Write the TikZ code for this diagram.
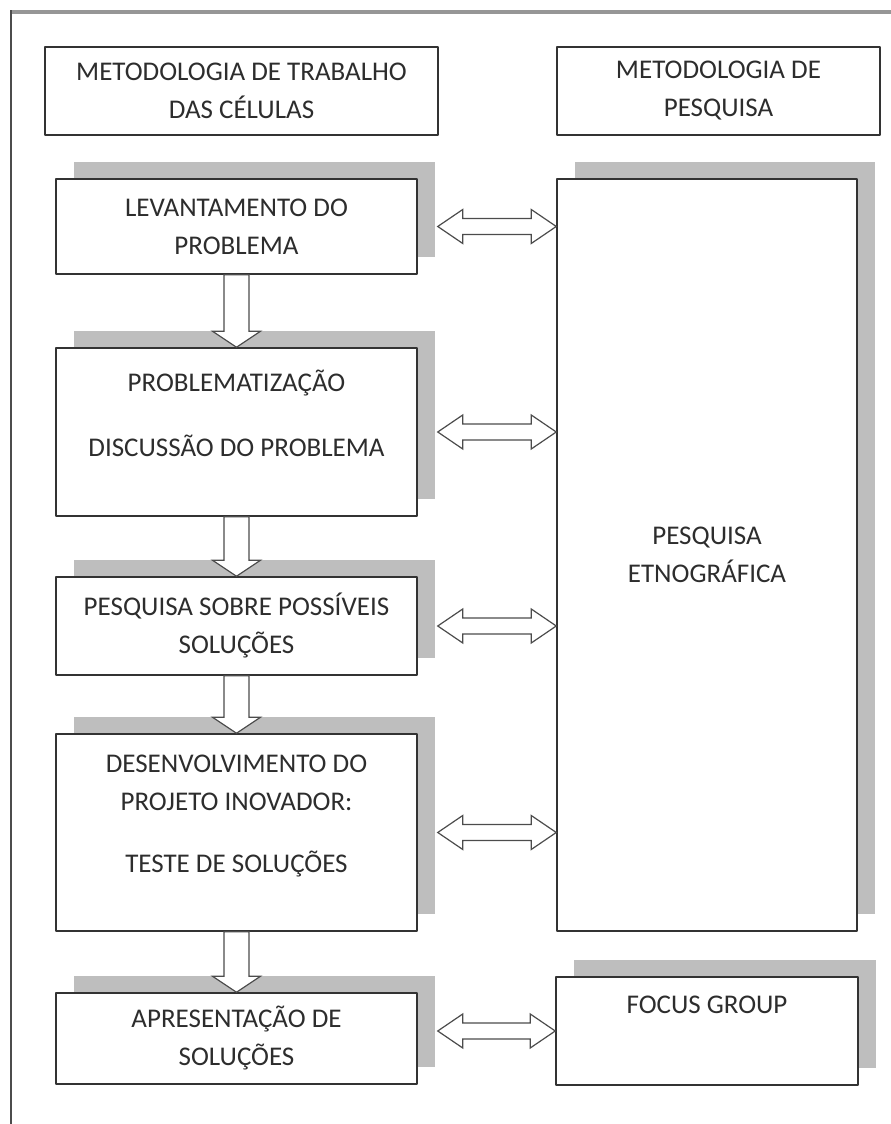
\documentclass[tikz,border=0pt]{standalone}
\usepackage{fontspec}
\setmainfont{Carlito}
\usetikzlibrary{shadows}
\usetikzlibrary{calc}

\definecolor{shadegray}{RGB}{190,190,190}
\definecolor{textgray}{RGB}{45,45,45}
\definecolor{framegray}{RGB}{150,150,150}

\tikzset{
  cellbox/.style={draw=black!80, line width=1.5bp, fill=white, align=center,
    text=textgray, inner sep=0pt, font=\fontsize{27bp}{38bp}\selectfont},
  shadowbox/.style={cellbox, drop shadow={shadow xshift=18bp, shadow yshift=17bp,
    fill=shadegray, opacity=1}},
  hollow/.style={draw=black!70, line width=1.2bp, fill=white, line join=miter},
}

\begin{document}
\begin{tikzpicture}[line join=bevel,]
\useasboundingbox (0bp,0bp) rectangle (891bp,1124bp);
%%
\draw [framegray, line width=3.5bp] (11bp,1112bp) -- (891bp,1112bp);
\draw [black!70, line width=1.5bp] (11bp,0bp) -- (11bp,1113.5bp);
%%
\node (hdr_cells) at (241.5bp,1033bp) [cellbox, minimum width=393bp, minimum height=88bp] {METODOLOGIA DE TRABALHO\\DAS CÉLULAS};
  \node (hdr_research) at (718.5bp,1033bp) [cellbox, minimum width=323bp, minimum height=88bp] {METODOLOGIA DE\\PESQUISA};
  \node (lev) at (236.5bp,897.5bp) [shadowbox, minimum width=361bp, minimum height=95bp] {LEVANTAMENTO DO\\PROBLEMA};
  \node (prob) at (236.5bp,692bp) [shadowbox, minimum width=361bp, minimum height=168bp] {PROBLEMATIZAÇÃO\\[27bp]DISCUSSÃO DO PROBLEMA\\~};
  \node (sol) at (236.5bp,498bp) [shadowbox, minimum width=361bp, minimum height=98bp] {PESQUISA SOBRE POSSÍVEIS\\SOLUÇÕES};
  \node (dev) at (236.5bp,291.5bp) [shadowbox, minimum width=361bp, minimum height=197bp] {DESENVOLVIMENTO DO\\PROJETO INOVADOR:\\[24bp]TESTE DE SOLUÇÕES\\~};
  \node (apr) at (236.5bp,85.5bp) [shadowbox, minimum width=361bp, minimum height=91bp] {APRESENTAÇÃO DE\\SOLUÇÕES};
  \node (etno) at (707bp,569bp) [shadowbox, minimum width=300bp, minimum height=752bp] {PESQUISA\\ETNOGRÁFICA};
  \node (focus) at (707bp,93bp) [shadowbox, minimum width=302bp, minimum height=108bp] {FOCUS GROUP\\[14bp]~};
%%
  \draw [hollow] ($(lev.south)+(-12.5bp,0bp)$) -- ($(prob.north)+(-12.5bp,16bp)$) -- ($(prob.north)+(-24bp,16bp)$) -- (prob.north) -- ($(prob.north)+(24bp,16bp)$) -- ($(prob.north)+(12.5bp,16bp)$) -- ($(lev.south)+(12.5bp,0bp)$) -- cycle;
  \draw [hollow] ($(prob.south)+(-12.5bp,0bp)$) -- ($(sol.north)+(-12.5bp,16bp)$) -- ($(sol.north)+(-24bp,16bp)$) -- (sol.north) -- ($(sol.north)+(24bp,16bp)$) -- ($(sol.north)+(12.5bp,16bp)$) -- ($(prob.south)+(12.5bp,0bp)$) -- cycle;
  \draw [hollow] ($(sol.south)+(-12.5bp,0bp)$) -- ($(dev.north)+(-12.5bp,16bp)$) -- ($(dev.north)+(-24bp,16bp)$) -- (dev.north) -- ($(dev.north)+(24bp,16bp)$) -- ($(dev.north)+(12.5bp,16bp)$) -- ($(sol.south)+(12.5bp,0bp)$) -- cycle;
  \draw [hollow] ($(dev.south)+(-12.5bp,0bp)$) -- ($(apr.north)+(-12.5bp,16bp)$) -- ($(apr.north)+(-24bp,16bp)$) -- (apr.north) -- ($(apr.north)+(24bp,16bp)$) -- ($(apr.north)+(12.5bp,16bp)$) -- ($(dev.south)+(12.5bp,0bp)$) -- cycle;
%%
  \draw [hollow] ($(lev.east)+(20bp,0bp)$) -- ++(25bp,17bp) -- ++(0bp,-9bp) -- ($(lev.east -| etno.west)+(-25bp,8bp)$) -- ++(0bp,9bp) -- (lev.east -| etno.west) -- ++(-25bp,-17bp) -- ++(0bp,9bp) -- ($(lev.east)+(45bp,-8bp)$) -- ++(0bp,-9bp) -- cycle;
  \draw [hollow] ($(prob.east)+(20bp,0bp)$) -- ++(25bp,17bp) -- ++(0bp,-9bp) -- ($(prob.east -| etno.west)+(-25bp,8bp)$) -- ++(0bp,9bp) -- (prob.east -| etno.west) -- ++(-25bp,-17bp) -- ++(0bp,9bp) -- ($(prob.east)+(45bp,-8bp)$) -- ++(0bp,-9bp) -- cycle;
  \draw [hollow] ($(sol.east)+(20bp,0bp)$) -- ++(25bp,17bp) -- ++(0bp,-9bp) -- ($(sol.east -| etno.west)+(-25bp,8bp)$) -- ++(0bp,9bp) -- (sol.east -| etno.west) -- ++(-25bp,-17bp) -- ++(0bp,9bp) -- ($(sol.east)+(45bp,-8bp)$) -- ++(0bp,-9bp) -- cycle;
  \draw [hollow] ($(dev.east)+(20bp,0bp)$) -- ++(25bp,17bp) -- ++(0bp,-9bp) -- ($(dev.east -| etno.west)+(-25bp,8bp)$) -- ++(0bp,9bp) -- (dev.east -| etno.west) -- ++(-25bp,-17bp) -- ++(0bp,9bp) -- ($(dev.east)+(45bp,-8bp)$) -- ++(0bp,-9bp) -- cycle;
  \draw [hollow] ($(apr.east |- focus.west)+(20bp,0bp)$) -- ++(25bp,17bp) -- ++(0bp,-9bp) -- ($(focus.west)+(-25bp,8bp)$) -- ++(0bp,9bp) -- (focus.west) -- ++(-25bp,-17bp) -- ++(0bp,9bp) -- ($(apr.east |- focus.west)+(45bp,-8bp)$) -- ++(0bp,-9bp) -- cycle;
%
\end{tikzpicture}
\end{document}
